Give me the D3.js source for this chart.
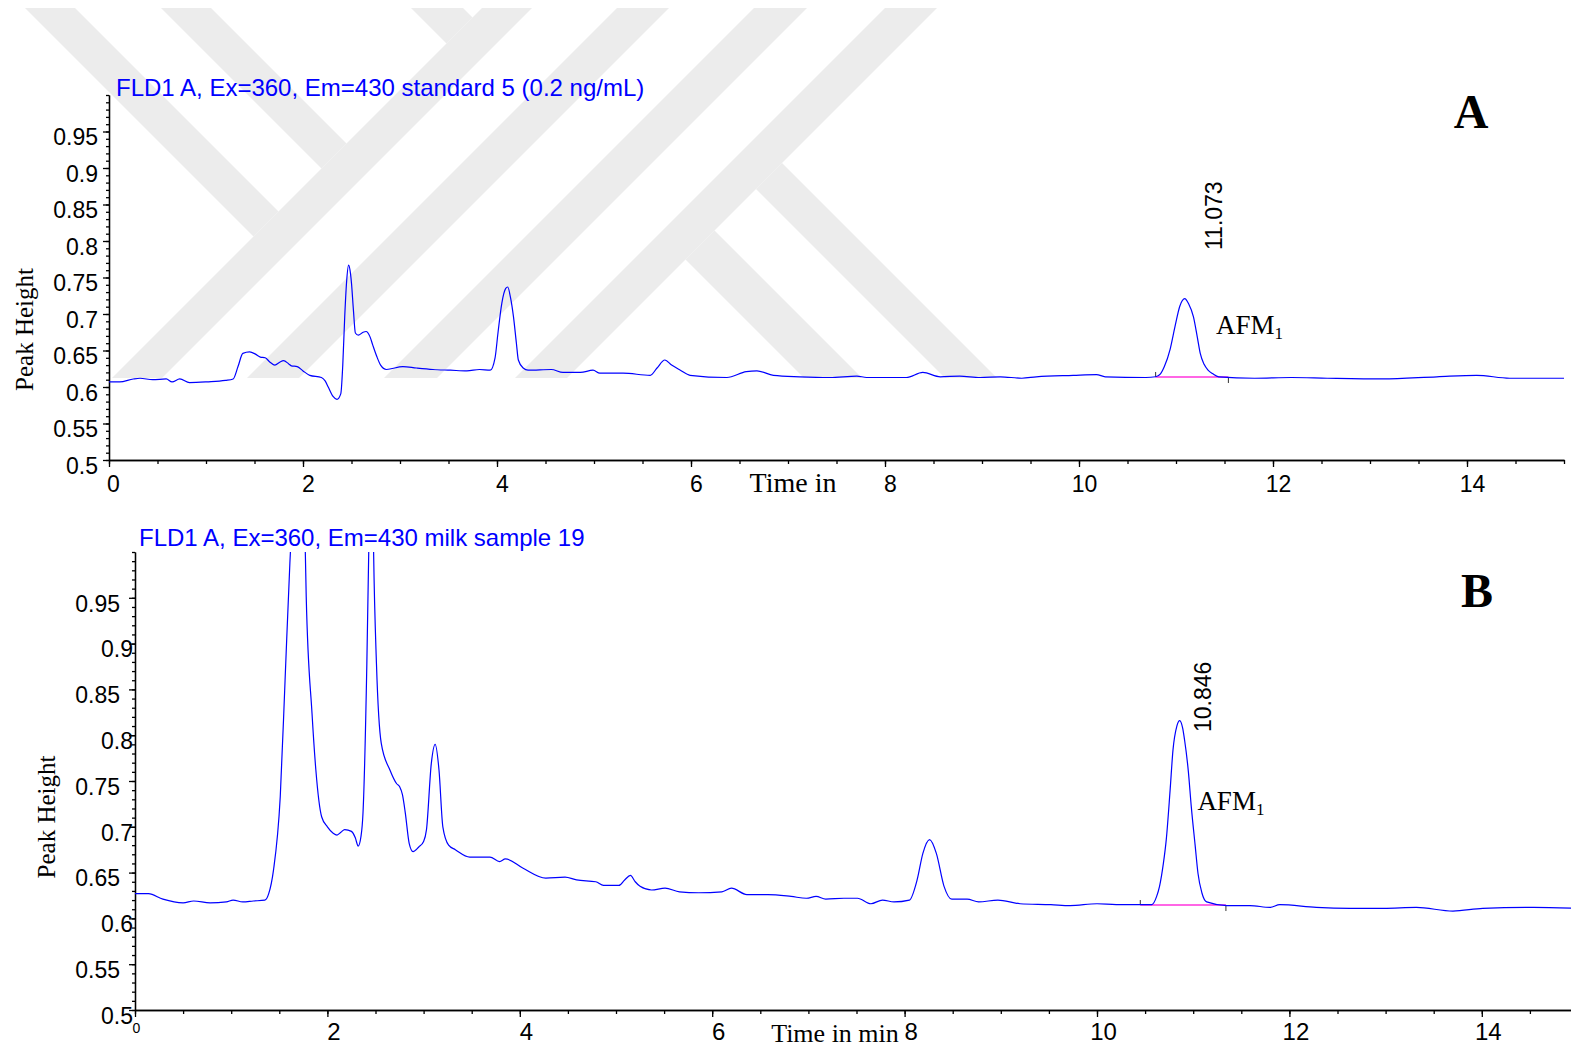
<!DOCTYPE html>
<html>
<head>
<meta charset="utf-8">
<script src="https://cdn.jsdelivr.net/npm/d3@7"></script>
<style>
  body { margin: 0; background: #fff; }
  svg { display: block; }
</style>
</head>
<body>
<div id="chart"></div>
<script>
'use strict'

// ---- data (time in min, peak height) ----
let traceA = [
  [0.00, 0.607], [0.11, 0.607], [0.25, 0.611], [0.32, 0.612], [0.45, 0.610], [0.59, 0.611],
  [0.65, 0.607], [0.73, 0.611], [0.83, 0.606], [1.01, 0.607], [1.20, 0.609], [1.28, 0.611],
  [1.33, 0.628], [1.38, 0.646], [1.45, 0.648], [1.51, 0.645], [1.56, 0.641], [1.61, 0.640],
  [1.66, 0.634], [1.71, 0.630], [1.76, 0.634], [1.80, 0.636], [1.85, 0.632], [1.88, 0.629],
  [1.94, 0.628], [2.00, 0.622], [2.07, 0.616], [2.19, 0.613], [2.23, 0.608], [2.26, 0.600],
  [2.31, 0.587], [2.35, 0.583], [2.39, 0.591], [2.41, 0.630], [2.43, 0.696], [2.45, 0.745],
  [2.47, 0.767], [2.49, 0.755], [2.50, 0.742], [2.52, 0.705], [2.54, 0.674], [2.57, 0.671],
  [2.62, 0.675], [2.65, 0.676], [2.69, 0.669], [2.72, 0.657], [2.76, 0.642], [2.80, 0.630],
  [2.86, 0.624], [3.03, 0.628], [3.17, 0.626], [3.34, 0.624], [3.52, 0.623], [3.69, 0.622],
  [3.82, 0.624], [3.93, 0.623], [3.98, 0.640], [4.01, 0.674], [4.05, 0.715], [4.09, 0.735],
  [4.11, 0.737], [4.14, 0.722], [4.17, 0.696], [4.20, 0.660], [4.22, 0.637], [4.27, 0.626],
  [4.32, 0.623], [4.56, 0.624], [4.68, 0.620], [4.86, 0.620], [4.99, 0.623], [5.06, 0.619],
  [5.30, 0.619], [5.58, 0.616], [5.65, 0.626], [5.73, 0.637], [5.80, 0.630], [5.89, 0.623],
  [5.99, 0.616], [6.37, 0.613], [6.57, 0.621], [6.68, 0.622], [6.85, 0.616], [7.12, 0.614],
  [7.43, 0.613], [7.71, 0.615], [7.81, 0.613], [8.22, 0.613], [8.39, 0.620], [8.57, 0.614],
  [8.77, 0.615], [8.98, 0.613], [9.19, 0.614], [9.41, 0.612], [9.56, 0.614], [9.94, 0.616],
  [10.18, 0.617], [10.27, 0.614], [10.69, 0.613], [10.79, 0.614], [10.84, 0.618], [10.88, 0.628],
  [10.94, 0.652], [10.99, 0.683], [11.04, 0.711], [11.09, 0.721], [11.13, 0.714], [11.18, 0.696],
  [11.22, 0.668], [11.25, 0.646], [11.29, 0.631], [11.33, 0.623], [11.38, 0.618], [11.44, 0.614],
  [11.81, 0.612], [12.19, 0.613], [12.56, 0.612], [13.13, 0.611], [13.69, 0.614], [14.10, 0.616],
  [14.44, 0.612], [15.00, 0.612]
]

let traceB = [
  [0.00, 0.627], [0.14, 0.627], [0.29, 0.621], [0.50, 0.617], [0.61, 0.619], [0.78, 0.617],
  [0.95, 0.618], [1.02, 0.620], [1.12, 0.618], [1.23, 0.619], [1.35, 0.620], [1.39, 0.627],
  [1.44, 0.653], [1.51, 0.733], [1.56, 0.860], [1.61, 0.988], [1.66, 1.080], [1.70, 1.120],
  [1.74, 1.070], [1.77, 1.002], [1.78, 0.951], [1.84, 0.824], [1.88, 0.762], [1.94, 0.711],
  [2.00, 0.700], [2.06, 0.693], [2.10, 0.691], [2.14, 0.694], [2.18, 0.697], [2.25, 0.695],
  [2.29, 0.688], [2.32, 0.679], [2.35, 0.690], [2.37, 0.715], [2.41, 0.878], [2.43, 1.002],
  [2.45, 1.150], [2.47, 1.080], [2.48, 1.002], [2.51, 0.878], [2.56, 0.791], [2.65, 0.762],
  [2.72, 0.747], [2.75, 0.744], [2.78, 0.735], [2.81, 0.715], [2.85, 0.682], [2.89, 0.673],
  [2.95, 0.678], [3.00, 0.684], [3.03, 0.697], [3.08, 0.769], [3.12, 0.790], [3.16, 0.762],
  [3.20, 0.700], [3.26, 0.680], [3.33, 0.675], [3.48, 0.667], [3.69, 0.667], [3.79, 0.662],
  [3.85, 0.665], [4.03, 0.655], [4.27, 0.644], [4.47, 0.645], [4.59, 0.642], [4.79, 0.640],
  [4.87, 0.636], [5.03, 0.636], [5.09, 0.642], [5.15, 0.647], [5.20, 0.640], [5.25, 0.635],
  [5.37, 0.631], [5.51, 0.633], [5.66, 0.629], [5.86, 0.628], [6.10, 0.629], [6.20, 0.633],
  [6.36, 0.626], [6.58, 0.626], [6.82, 0.624], [6.98, 0.622], [7.08, 0.624], [7.18, 0.621],
  [7.37, 0.622], [7.51, 0.622], [7.65, 0.616], [7.77, 0.620], [7.89, 0.618], [8.05, 0.620],
  [8.13, 0.642], [8.19, 0.671], [8.26, 0.686], [8.33, 0.671], [8.41, 0.635], [8.49, 0.621],
  [8.65, 0.621], [8.77, 0.618], [8.97, 0.620], [9.20, 0.616], [9.52, 0.615], [9.72, 0.614],
  [10.00, 0.616], [10.20, 0.615], [10.45, 0.615], [10.57, 0.615], [10.62, 0.624], [10.65, 0.635],
  [10.69, 0.660], [10.72, 0.686], [10.76, 0.740], [10.79, 0.784], [10.83, 0.810], [10.86, 0.816],
  [10.89, 0.808], [10.91, 0.795], [10.95, 0.760], [10.98, 0.722], [11.02, 0.680], [11.05, 0.649],
  [11.09, 0.628], [11.14, 0.618], [11.35, 0.614], [11.59, 0.614], [11.80, 0.612], [11.90, 0.615],
  [12.28, 0.612], [12.63, 0.611], [12.98, 0.611], [13.32, 0.612], [13.70, 0.608], [14.01, 0.611],
  [14.54, 0.612], [15.00, 0.611]
]

let yTicks = [0.5, 0.55, 0.6, 0.65, 0.7, 0.75, 0.8, 0.85, 0.9, 0.95]
let xTicks = [0, 2, 4, 6, 8, 10, 12, 14]
let titles = ['FLD1 A, Ex=360, Em=430 standard 5 (0.2 ng/mL)', 'FLD1 A, Ex=360, Em=430 milk sample 19']
let panelLetters = ['A', 'B']
let xTitles = ['Time in', 'Time in min']
let retention = [11.073, 10.846]         // labelled peak (AFM1)
let integration = [[10.79, 11.54, 0.6137], [10.45, 11.34, 0.6146]]  // start, end, baseline level

let yMinor = d3.range(50, 101).map(d => d / 100)
let xMinor = d3.range(0, 31).map(d => d / 2)

let width = 1571
let height = 1051
let sans = 'Liberation Sans, Arial, sans-serif'
let serif = 'Liberation Serif, Times New Roman, serif'
let blue = '#0000ff'

let svg = d3.select('#chart').append('svg')
  .attr('width', width)
  .attr('height', height)

/*
  grey watermark in the top-left (diagonal bands)
*/
let wmTop = 8, wmBottom = 378
let wmSlash = [[490, 540], [625, 677], [762, 815], [893, 945]]     // x + y between
let wmBackTop = [[17, 67, 490], [153, 203, 490], [403, 455, 490]]  // x - y between, ends on x + y = s
let wmBackLeg = [[567, 619, 945], [426, 484, 945]]
let meet = (a, b) => [(a + b) / 2, (b - a) / 2]

let wmPolys = []
wmSlash.forEach(b => wmPolys.push([[b[0] - wmTop, wmTop], [b[1] - wmTop, wmTop], [b[1] - wmBottom, wmBottom], [b[0] - wmBottom, wmBottom]]))
wmBackTop.forEach(a => wmPolys.push([[a[0] + wmTop, wmTop], [a[1] + wmTop, wmTop], meet(a[1], a[2]), meet(a[0], a[2])]))
wmBackLeg.forEach(a => wmPolys.push([meet(a[1], a[2]), [a[1] + wmBottom, wmBottom], [a[0] + wmBottom, wmBottom], meet(a[0], a[2])]))

svg.append('g').selectAll('path')
  .data(wmPolys)
  .enter()
  .append('path')
  .attr('d', d => 'M' + d.join('L') + 'Z')
  .attr('fill', '#ececec')

/*
  one chromatogram panel
*/
function drawPanel(p, i) {
  let x = d3.scaleLinear().domain([0, 15]).range([p.left, p.right])
  let y = d3.scaleLinear().domain([0.5, 1.0]).range([p.bottom, p.top])
  let fmt = d => String(+d.toFixed(2))

  let g = svg.append('g')

  g.append('clipPath').attr('id', 'clip' + i)
    .append('rect')
    .attr('x', p.left).attr('y', p.top)
    .attr('width', p.right - p.left).attr('height', p.bottom - p.top)

  // y axis
  g.append('g')
    .attr('transform', 'translate(' + p.left + ',0)')
    .call(d3.axisLeft(y).tickValues(yMinor).tickSize(3).tickSizeOuter(0).tickFormat(''))
  let ya = g.append('g')
    .attr('transform', 'translate(' + p.left + ',0)')
    .call(d3.axisLeft(y).tickValues(yTicks).tickSize(6).tickSizeOuter(0).tickFormat(fmt))
  ya.selectAll('text')
    .attr('x', d => p.yLabelX(fmt(d)))
    .attr('y', 6)
    .style('font-family', sans)
    .style('font-size', '23px')
    .attr('fill', '#000')

  // x axis
  g.append('g')
    .attr('transform', 'translate(0,' + p.bottom + ')')
    .call(d3.axisBottom(x).tickValues(xMinor).tickSize(4).tickSizeOuter(0).tickFormat(''))
  let xa = g.append('g')
    .attr('transform', 'translate(0,' + p.bottom + ')')
    .call(d3.axisBottom(x).tickValues(xTicks).tickSize(7).tickSizeOuter(0))
  xa.selectAll('text')
    .attr('y', p.xLabelY)
    .attr('dx', d => (d === 0 ? p.zeroDx : p.xLabelDx))
    .style('font-family', sans)
    .style('font-size', d => (d === 0 ? p.zeroSize : p.xLabelSize) + 'px')
    .attr('fill', '#000')

  g.selectAll('.domain, .tick line')
    .attr('stroke', '#000')
    .attr('stroke-width', 1.3)

  // axis titles
  g.append('text')
    .attr('x', p.xTitleX).attr('y', p.xTitleY)
    .attr('text-anchor', 'middle')
    .style('font-family', serif)
    .style('font-size', p.xTitleSize + 'px')
    .text(xTitles[i])

  g.append('text')
    .attr('transform', 'translate(' + p.yTitleX + ',' + ((p.top + p.bottom) / 2 + p.yTitleShift) + ')rotate(-90)')
    .attr('text-anchor', 'middle')
    .style('font-family', serif)
    .style('font-size', '25px')
    .text('Peak Height')

  // signal title
  g.append('text')
    .attr('x', p.titleX).attr('y', p.titleY)
    .attr('fill', blue)
    .style('font-family', sans)
    .style('font-size', '24px')
    .text(titles[i])

  // panel letter
  g.append('text')
    .attr('x', p.letterX).attr('y', p.letterY)
    .attr('text-anchor', 'middle')
    .style('font-family', serif)
    .style('font-weight', 'bold')
    .style('font-size', '48px')
    .text(panelLetters[i])

  // integration baseline of the AFM1 peak
  let ib = integration[i]
  g.append('line')
    .attr('x1', x(ib[0])).attr('x2', x(ib[1]))
    .attr('y1', y(ib[2])).attr('y2', y(ib[2]))
    .attr('stroke', '#ff33dd')
    .attr('stroke-width', 1.6)
  g.append('line')
    .attr('x1', x(ib[0])).attr('x2', x(ib[0]))
    .attr('y1', y(ib[2]) - 5).attr('y2', y(ib[2]))
    .attr('stroke', '#333')
  g.append('line')
    .attr('x1', x(ib[1])).attr('x2', x(ib[1]))
    .attr('y1', y(ib[2])).attr('y2', y(ib[2]) + 6)
    .attr('stroke', '#333')

  // the trace
  let line = d3.line()
    .x(d => x(d[0]))
    .y(d => y(d[1]))
    .curve(d3.curveMonotoneX)

  g.append('path')
    .datum(p.trace)
    .attr('clip-path', 'url(#clip' + i + ')')
    .attr('d', line)
    .attr('fill', 'none')
    .attr('stroke', blue)
    .attr('stroke-width', 1.2)

  // retention time and compound label
  g.append('text')
    .attr('transform', 'translate(' + (x(retention[i]) + p.rtDx) + ',' + p.rtY + ')rotate(-90)')
    .style('font-family', sans)
    .style('font-size', '23px')
    .text(d3.format('.3f')(retention[i]))

  let afm = g.append('text')
    .attr('x', x(retention[i]) + p.afmDx)
    .attr('y', p.afmY)
    .style('font-family', serif)
    .style('font-size', '27px')
  afm.append('tspan').text('AFM')
  afm.append('tspan').attr('dy', 5).style('font-size', '17px').text('1')
}

let panels = [
  {
    trace: traceA, left: 109, right: 1564, top: 95, bottom: 460,
    yLabelX: s => -11,
    xLabelY: 16, xLabelDx: 5, xLabelSize: 23, zeroDx: 4, zeroSize: 23,
    xTitleX: 793, xTitleY: 492, xTitleSize: 28,
    yTitleX: 33, yTitleShift: 52,
    titleX: 116, titleY: 96,
    letterX: 1471, letterY: 128,
    rtDx: 39, rtY: 250, afmDx: 33, afmY: 334
  },
  {
    trace: traceB, left: 135, right: 1578, top: 552, bottom: 1010,
    yLabelX: s => (s.length > 3 ? -15 : -2),
    xLabelY: 13, xLabelDx: 6, xLabelSize: 24, zeroDx: 1, zeroSize: 14,
    xTitleX: 835, xTitleY: 1042, xTitleSize: 26,
    yTitleX: 55, yTitleShift: 36,
    titleX: 139, titleY: 546,
    letterX: 1477, letterY: 607,
    rtDx: 33, rtY: 732, afmDx: 19, afmY: 810
  }
]

panels.forEach(drawPanel)
</script>
</body>
</html>
